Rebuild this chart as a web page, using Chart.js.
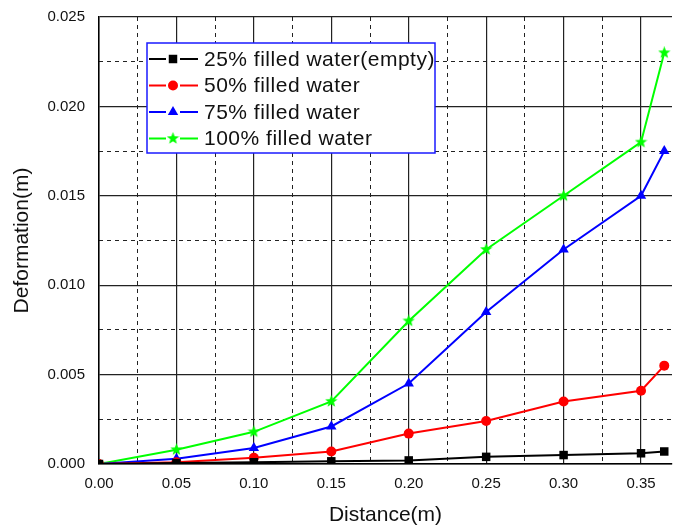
<!DOCTYPE html>
<html>
<head>
<meta charset="utf-8">
<script src="https://cdn.jsdelivr.net/npm/chart.js@4.4.0/dist/chart.umd.min.js"></script>
<style>
  html, body { margin: 0; padding: 0; background: #fff; }
  #wrap { width: 678px; height: 529px; }
</style>
</head>
<body>
<div id="wrap"><canvas id="deformChart"></canvas></div>
<script>
// distance along the wall (m) and deformation (m) for each filling level
const distance = [0, 0.05, 0.10, 0.15, 0.20, 0.25, 0.30, 0.35, 0.365];
const filled25 = [0, 0.00005, 0.0001, 0.00015, 0.0002, 0.0004, 0.0005, 0.0006, 0.0007];
const filled50 = [0, 0.0001, 0.00035, 0.0007, 0.0017, 0.0024, 0.0035, 0.0041, 0.0055];
const filled75 = [0, 0.0003, 0.0009, 0.0021, 0.0045, 0.0085, 0.012, 0.015, 0.0175];
const filled100 = [0, 0.0008, 0.0018, 0.0035, 0.008, 0.012, 0.015, 0.018, 0.023];

const seriesLabels = ['25% filled water(empty)', '50% filled water', '75% filled water', '100% filled water'];
const seriesColors = ['#000000', '#ff0000', '#0000ff', '#00ff00'];

const xTickStep = 0.05;
const yTickStep = 0.005;

// filled five point star for the 100% series
function makeStar(color, size) {
    const c = document.createElement('canvas');
    c.width = size; c.height = size;
    const g = c.getContext('2d');
    const cx = size / 2, cy = size / 2, R = size / 2, r = R * 0.42;
    g.beginPath();
    for (let i = 0; i < 10; i++) {
        const rad = i % 2 === 0 ? R : r;
        const a = -Math.PI / 2 + i * Math.PI / 5;
        g.lineTo(cx + rad * Math.cos(a), cy + rad * Math.sin(a));
    }
    g.closePath();
    g.fillStyle = color;
    g.fill();
    return c;
}

const pointStyles = ['rect', 'circle', 'triangle', makeStar('#00ff00', 13)];
const pointRadii = [6, 5, 6, 6];

function toPoints(values) {
    return distance.map((d, i) => ({ x: d, y: values[i] }));
}

const allValues = [filled25, filled50, filled75, filled100];

const datasets = allValues.map((vals, i) => ({
    label: seriesLabels[i],
    data: toPoints(vals),
    borderColor: seriesColors[i],
    backgroundColor: seriesColors[i],
    borderWidth: 2,
    tension: 0,
    pointStyle: pointStyles[i],
    pointRadius: pointRadii[i],
    pointBorderWidth: 0,
    pointBackgroundColor: seriesColors[i],
    pointBorderColor: seriesColors[i]
}));

// boxed legend inside the plot: line - marker - line, then label
const boxLegend = {
    id: 'boxLegend',
    afterDraw(chart) {
        const ctx = chart.ctx;
        const left = 147, top = 43, w = 288, h = 110;
        ctx.save();
        ctx.fillStyle = '#fff';
        ctx.fillRect(left, top, w, h);
        ctx.strokeStyle = '#1a1aff';
        ctx.lineWidth = 1.5;
        ctx.strokeRect(left, top, w, h);
        ctx.font = '21px "Liberation Sans", Arial, sans-serif';
        ctx.letterSpacing = '0.5px';
        ctx.textBaseline = 'middle';
        chart.data.datasets.forEach((ds, i) => {
            const y = top + 16 + i * 26.5;
            ctx.strokeStyle = ds.borderColor;
            ctx.lineWidth = 2;
            ctx.beginPath();
            ctx.moveTo(left + 2, y); ctx.lineTo(left + 19, y);
            ctx.moveTo(left + 33, y); ctx.lineTo(left + 51, y);
            ctx.stroke();
            ctx.fillStyle = ds.borderColor;
            Chart.helpers.drawPoint(ctx, {
                pointStyle: ds.pointStyle,
                radius: ds.pointRadius,
                rotation: 0,
                borderWidth: 0
            }, left + 26, y);
            ctx.fillStyle = '#111';
            ctx.fillText(ds.label, left + 57, y + 1);
        });
        ctx.restore();
    }
};

const tickFont = { family: '"Liberation Sans", Arial, sans-serif', size: 15 };
const titleFont = { family: '"Liberation Sans", Arial, sans-serif', size: 21 };

function isMajor(value, step) {
    const k = value / step;
    return Math.abs(k - Math.round(k)) < 1e-6;
}

new Chart(document.getElementById('deformChart'), {
    type: 'line',
    data: { datasets: datasets },
    options: {
        responsive: true,
        maintainAspectRatio: false,
        animation: false,
        layout: { padding: { top: 17, right: 0, left: 0, bottom: 0 } },
        plugins: {
            legend: { display: false },
            tooltip: { enabled: false }
        },
        scales: {
            x: {
                type: 'linear',
                min: 0,
                max: 0.37,
                border: { display: true, color: '#000', width: 1.5 },
                grid: { color: '#222', lineWidth: 1.2, drawTicks: false },
                ticks: {
                    stepSize: xTickStep,
                    includeBounds: false,
                    color: '#111',
                    font: tickFont,
                    padding: 11,
                    callback: v => v.toFixed(2)
                },
                title: { display: true, text: 'Distance(m)', color: '#111', font: titleFont, padding: { top: 4, bottom: 1 } },
                afterFit(scale) {
                    scale.height = 65;
                    scale.paddingLeft = 0;
                    scale.paddingRight = 0;
                }
            },
            xMinor: {
                type: 'linear',
                position: 'bottom',
                min: 0,
                max: 0.37,
                border: { display: false, dash: [4, 4] },
                grid: {
                    drawTicks: false,
                    lineWidth: 1,
                    color: c => isMajor(c.tick.value, xTickStep) ? 'rgba(0,0,0,0)' : '#222'
                },
                ticks: { display: false, stepSize: xTickStep / 2, includeBounds: false },
                afterFit(scale) { scale.height = 0; }
            },
            y: {
                type: 'linear',
                min: 0,
                max: 0.025,
                border: { display: true, color: '#000', width: 1.5 },
                grid: { color: '#222', lineWidth: 1.2, drawTicks: false },
                ticks: {
                    stepSize: yTickStep,
                    color: '#111',
                    font: tickFont,
                    padding: 14,
                    callback: v => v.toFixed(3)
                },
                title: { display: true, text: 'Deformation(m)', color: '#111', font: titleFont, padding: { top: 10, bottom: 0 } },
                afterFit(scale) {
                    scale.width = 99;
                    scale.paddingTop = 0;
                    scale.paddingBottom = 0;
                }
            },
            yMinor: {
                type: 'linear',
                position: 'left',
                min: 0,
                max: 0.025,
                border: { display: false, dash: [4, 4] },
                grid: {
                    drawTicks: false,
                    lineWidth: 1,
                    color: c => isMajor(c.tick.value, yTickStep) ? 'rgba(0,0,0,0)' : '#222'
                },
                ticks: { display: false, stepSize: yTickStep / 2 },
                afterFit(scale) { scale.width = 0; }
            }
        }
    },
    plugins: [boxLegend]
});
</script>
</body>
</html>
